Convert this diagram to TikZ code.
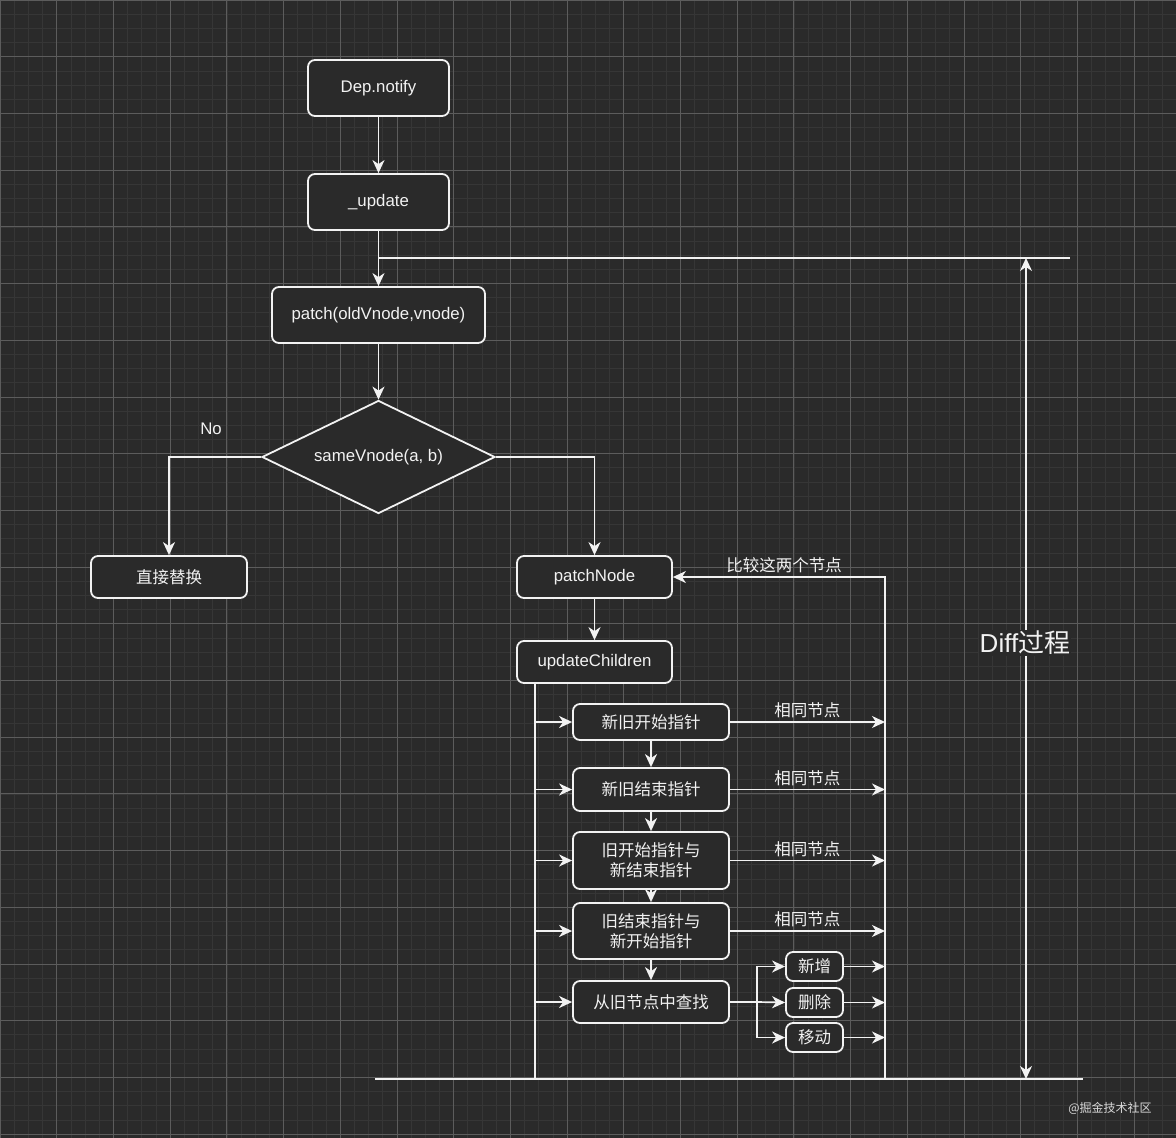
\documentclass[tikz,border=0pt]{standalone}
\usepackage{fontspec}
\setmainfont{Liberation Sans}
\newfontfamily\cjk{Noto Sans CJK SC}
\usetikzlibrary{arrows.meta,shapes.geometric}
\definecolor{bg}{HTML}{2A2A2A}
\definecolor{minorg}{HTML}{363636}
\definecolor{majorg}{HTML}{5C5C5C}
\definecolor{fg}{HTML}{F2F2F2}
\begin{document}
\begin{tikzpicture}[x=1pt,y=-1pt,
  every node/.style={text=fg, font=\fontsize{16.8}{20}\selectfont},
  box/.style={draw=fg, line width=1.8, rounded corners=7, fill=bg, inner sep=0, align=center},
  cbox/.style={box, font=\cjk\fontsize{16.5}{20}\selectfont},
  ln/.style={draw=fg, line width=1.7},
  tip/.style={},
  arr/.style={ln, -{Stealth[length=13, width=12, inset=4]}},
  lbl/.style={inner sep=3, font=\cjk\fontsize{16.5}{20}\selectfont},
]
% background and grid
\fill[bg] (0,0) rectangle (1176,1138);
\useasboundingbox (0,0) rectangle (1176,1138);
\foreach \i in {0,...,83} {\draw[minorg, line width=0.6] (\i*14.175,0) -- (\i*14.175,1138);}
\foreach \i in {0,...,80} {\draw[minorg, line width=0.6] (0,\i*14.175) -- (1176,\i*14.175);}
\foreach \i in {0,...,20} {\draw[majorg, line width=0.8] (\i*56.7,0) -- (\i*56.7,1138);}
\foreach \i in {0,...,20} {\draw[majorg, line width=0.8] (0,\i*56.7) -- (1176,\i*56.7);}

% main column
\node[box, minimum width=141, minimum height=56] (dep) at (378.5,88) {Dep.notify};
\node[box, minimum width=141, minimum height=56] (upd) at (378.5,202) {\_update};
\node[box, minimum width=213, minimum height=56] (pat) at (378.5,315) {patch(oldVnode,vnode)};
\node[draw=fg, line width=1.8, fill=bg, diamond, aspect=2.06, minimum width=233, minimum height=113, inner sep=0] (dia) at (378.5,457) {sameVnode(a, b)};
\node[cbox, minimum width=156, minimum height=42] (rep) at (169,577) {直接替换};
\node[box, minimum width=155, minimum height=42] (pn) at (594.5,577) {patchNode};
\node[box, minimum width=155, minimum height=42] (uc) at (594.5,662) {updateChildren};

% steps
\node[cbox, minimum width=156, minimum height=36] (s1) at (651,722) {新旧开始指针};
\node[cbox, minimum width=156, minimum height=43] (s2) at (651,789.5) {新旧结束指针};
\node[cbox, minimum width=156, minimum height=57] (s3) at (651,860.5) {旧开始指针与\\新结束指针};
\node[cbox, minimum width=156, minimum height=56] (s4) at (651,931) {旧结束指针与\\新开始指针};
\node[cbox, minimum width=156, minimum height=42] (s5) at (651,1002) {从旧节点中查找};
\node[cbox, minimum width=57, minimum height=29] (add) at (814.5,966.5) {新增};
\node[cbox, minimum width=57, minimum height=29] (del) at (814.5,1002.5) {删除};
\node[cbox, minimum width=57, minimum height=29] (mov) at (814.5,1037.5) {移动};

% coordinates
\coordinate (tr) at (1070,258);
\coordinate (bt) at (535,683);
\coordinate (bb) at (535,1079);
\coordinate (rb) at (885,1079);
\coordinate (j) at (757,1002);
\coordinate (bl) at (375,1079);
\coordinate (br) at (1083,1079);
\coordinate (dt) at (1026,258);
\coordinate (db) at (1026,1079);

% connectors
\draw[arr] (dep) -- (upd);
\draw[arr] (upd) -- (pat);
\draw[ln] (upd.south |- tr) -- (tr);
\draw[arr] (pat) -- (dia);
\draw[arr] (dia.west) -| (rep.north);
\node (no) at (211,429) {No};
\draw[arr] (dia.east) -| (pn.north);
\draw[arr] (pn) -- (uc);
\draw[ln] (bt) -- (bb);
\foreach \s in {s1,s2,s3,s4,s5} {\draw[arr] (bb |- \s.west) -- (\s.west);}
\draw[arr] (s1) -- (s2);
\draw[arr] (s2) -- (s3);
\draw[arr] (s3) -- (s4);
\draw[arr] (s4) -- (s5);
\foreach \s in {s1,s2,s3,s4} {\draw[arr] (\s.east) -- (\s.east -| rb) node[lbl, midway, above] {相同节点};}
\draw[arr] (rb) -- (rb |- pn.east) -- (pn.east);
\node[lbl] (cmp) at (784,565) {比较这两个节点};
\draw[ln] (s5.east) -- (j);
\draw[arr] (j) -- (del.west);
\draw[arr] (j) |- (add.west);
\draw[arr] (j) |- (mov.west);
\foreach \s in {add,del,mov} {\draw[arr] (\s.east) -- (\s.east -| rb);}
\draw[ln] (bl) -- (br);
\draw[ln, {Stealth[length=13, width=12, inset=4]}-{Stealth[length=13, width=12, inset=4]}] (dt) -- (db);
\node[fill=bg, inner sep=1, font=\fontsize{26}{30}\selectfont] (dl) at (1025,643) {Diff{\cjk 过程}};
\node[font=\cjk\fontsize{12}{14}\selectfont, text=white!85!black] (wm) at (1110,1108) {@掘金技术社区};
\end{tikzpicture}
\end{document}
